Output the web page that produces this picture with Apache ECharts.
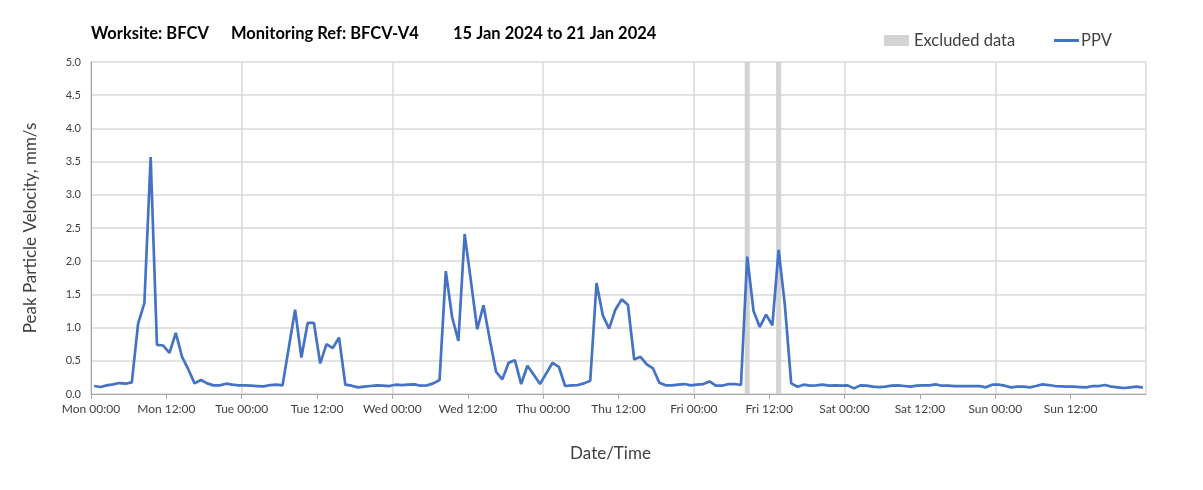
<!DOCTYPE html>
<html>
<head>
<meta charset="utf-8">
<script src="https://cdn.jsdelivr.net/npm/echarts@6/dist/echarts.min.js"></script>
<style>html,body{margin:0;padding:0;background:#fff;}#c{width:1203px;height:490px;}</style>
</head>
<body>
<div id="c"></div>
<script>
// Hourly PPV values (mm/s), one array per day, 24 hourly slots each
const dayNames = ['Mon', 'Tue', 'Wed', 'Thu', 'Fri', 'Sat', 'Sun'];
const mon = [0.12,0.105,0.13,0.145,0.165,0.155,0.175,1.06,1.37,3.57,0.74,0.73,0.62,0.92,0.56,0.37,0.16,0.21,0.16,0.13,0.13,0.155,0.14,0.13];
const tue = [0.13,0.125,0.12,0.115,0.135,0.14,0.13,0.70,1.27,0.55,1.07,1.07,0.46,0.75,0.69,0.85,0.14,0.125,0.10,0.11,0.12,0.13,0.125,0.12];
const wed = [0.14,0.135,0.14,0.145,0.125,0.13,0.16,0.21,1.85,1.16,0.80,2.41,1.70,0.975,1.335,0.82,0.335,0.22,0.47,0.51,0.15,0.425,0.29,0.15];
const thu = [0.31,0.47,0.41,0.12,0.13,0.135,0.16,0.20,1.67,1.185,0.985,1.27,1.425,1.345,0.52,0.56,0.445,0.385,0.17,0.13,0.13,0.14,0.15,0.13];
const fri = [0.14,0.15,0.19,0.125,0.125,0.15,0.15,0.135,2.07,1.25,1.01,1.195,1.035,2.17,1.33,0.16,0.11,0.14,0.125,0.13,0.14,0.125,0.13,0.125];
const sat = [0.13,0.085,0.13,0.125,0.11,0.105,0.11,0.125,0.13,0.12,0.11,0.125,0.13,0.13,0.145,0.125,0.125,0.12,0.12,0.12,0.12,0.12,0.10,0.14];
const sun = [0.14,0.125,0.10,0.11,0.11,0.10,0.12,0.145,0.135,0.12,0.115,0.11,0.11,0.105,0.10,0.12,0.12,0.135,0.11,0.10,0.09,0.10,0.11,0.095];
// Excluded hourly slots (hours since Mon 00:00)
const excludedHours = [104, 109];
const yTicks = [0,0.5,1,1.5,2,2.5,3,3.5,4,4.5,5];

const days = [mon, tue, wed, thu, fri, sat, sun];
const ppv = [];
days.forEach((d, di) => d.forEach((v, h) => ppv.push([di * 24 + h + 0.5, v])));
const excluded = excludedHours.map(h => [h + 0.5, yTicks[yTicks.length - 1]]);

const FONT = 'Lato';
const titleStyle = {fontFamily: FONT, fontSize: 16.5, fontWeight: 'bold', color: '#000'};
const chart = echarts.init(document.getElementById('c'), null, {renderer: 'canvas'});
chart.setOption({
  animation: false,
  backgroundColor: '#ffffff',
  title: [
    {text: 'Worksite: BFCV', left: 86, top: 20, textStyle: titleStyle},
    {text: 'Monitoring Ref: BFCV-V4', left: 226, top: 20, textStyle: titleStyle},
    {text: '15 Jan 2024 to 21 Jan 2024', left: 448, top: 20, textStyle: titleStyle}
  ],
  legend: [{
    left: 879, top: 27, itemWidth: 25, itemHeight: 11,
    textStyle: {fontFamily: FONT, fontSize: 16.5, color: '#404040'},
    data: [{name: 'Excluded data', icon: 'rect'}]
  }, {
    left: 1049, top: 27, itemWidth: 25, itemHeight: 3, itemGap: 4,
    textStyle: {fontFamily: FONT, fontSize: 16.5, color: '#404040', padding: [0, 0, 0, -3]},
    data: [{name: 'PPV', icon: 'rect'}]
  }],
  grid: {left: 91, right: 57, top: 62, bottom: 96, containLabel: false},
  xAxis: [{
    type: 'value', min: 0, max: 168, interval: 12,
    name: 'Date/Time', nameLocation: 'middle', nameGap: 51,
    nameTextStyle: {fontFamily: FONT, fontSize: 17, color: '#404040', padding: [0, 16, 0, 0]},
    axisLine: {show: true, lineStyle: {color: '#a6a6a6', width: 1}},
    axisTick: {show: true, length: 5, lineStyle: {color: '#a6a6a6'}},
    axisLabel: {
      fontFamily: FONT, fontSize: 12, color: '#404040', margin: 9, showMaxLabel: false,
      formatter: v => dayNames[Math.floor(v / 24) % 7] + (v % 24 === 0 ? ' 00:00' : ' 12:00')
    },
    splitLine: {show: false}
  }, {
    type: 'value', min: 0, max: 168, interval: 24, position: 'bottom',
    axisLine: {show: false}, axisTick: {show: false}, axisLabel: {show: false},
    splitLine: {show: true, lineStyle: {color: '#d9d9d9', width: 1.5}}
  }],
  yAxis: {
    type: 'value', min: 0, max: 5, interval: 0.5,
    name: 'Peak Particle Velocity, mm/s', nameLocation: 'middle', nameGap: 52,
    nameTextStyle: {fontFamily: FONT, fontSize: 17, color: '#404040'},
    axisLine: {show: true, lineStyle: {color: '#a6a6a6', width: 1}},
    axisTick: {show: false},
    axisLabel: {fontFamily: FONT, fontSize: 11, color: '#404040', margin: 10, formatter: v => v.toFixed(1)},
    splitLine: {show: true, lineStyle: {color: '#d9d9d9', width: 1.5}}
  },
  series: [{
    name: 'Excluded data', type: 'bar', xAxisIndex: 0, data: excluded,
    barWidth: 5, itemStyle: {color: '#d3d3d3'}, z: 1, silent: true
  }, {
    name: 'PPV', type: 'line', xAxisIndex: 0, data: ppv,
    symbol: 'none', lineStyle: {color: '#4472c4', width: 2.7}, itemStyle: {color: '#4472c4'}, z: 3
  }]
});
</script>
</body>
</html>
